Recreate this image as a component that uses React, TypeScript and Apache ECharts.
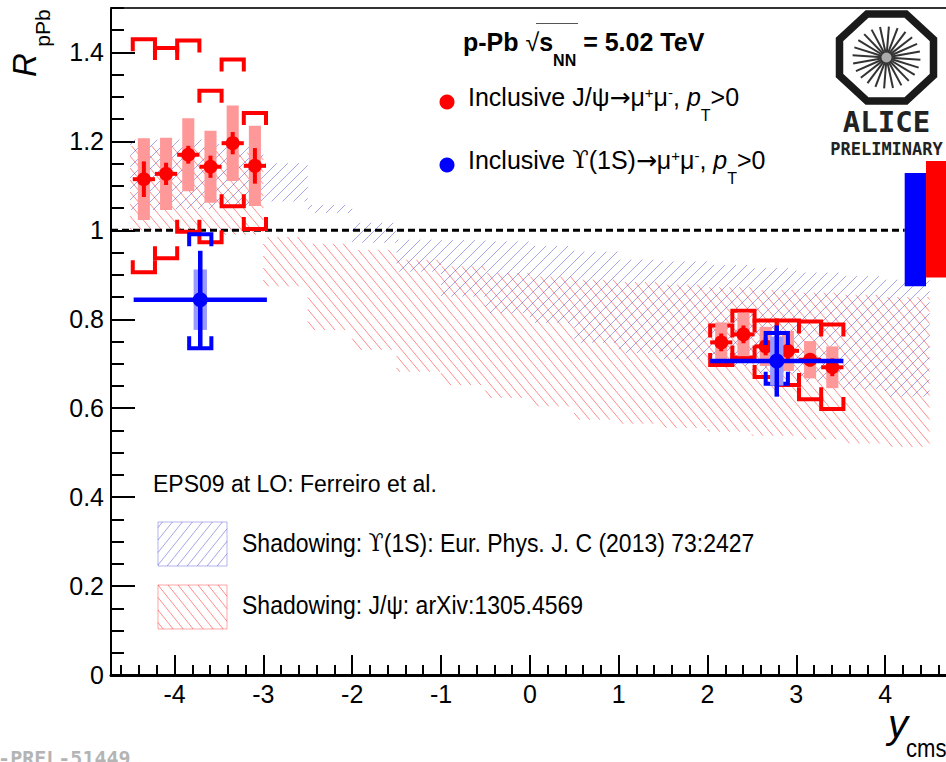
import React, { useEffect, useRef } from "react";
import * as echarts from "echarts";

const FONT = '"Liberation Sans", "DejaVu Sans", sans-serif';
const MONO = '"DejaVu Sans Mono", "Liberation Mono", monospace';
const SERIF = '"DejaVu Serif", "Liberation Serif", serif';

// ---------- data ----------
// J/psi -> mu+mu-  (p-Pb, pT>0)
const jpsiRapidity = [-4.345, -4.095, -3.845, -3.595, -3.345, -3.095, 2.155, 2.405, 2.655, 2.905, 3.155, 3.405];
const jpsiRpPb = [1.115, 1.127, 1.17, 1.143, 1.196, 1.145, 0.748, 0.766, 0.739, 0.729, 0.709, 0.692];
const jpsiStat = [0.04, 0.025, 0.02, 0.025, 0.025, 0.04, 0.02, 0.02, 0.02, 0.02, 0.015, 0.02];
const jpsiSystUncorr = [0.092, 0.081, 0.082, 0.081, 0.085, 0.09, 0.045, 0.049, 0.044, 0.045, 0.042, 0.047];
const jpsiSystCorrLow = [0.906, 0.937, 0.997, 0.973, 1.054, 1.003, 0.697, 0.714, 0.67, 0.652, 0.62, 0.598];
const jpsiSystCorrHigh = [1.43, 1.41, 1.427, 1.314, 1.384, 1.264, 0.786, 0.819, 0.797, 0.797, 0.795, 0.788];
const jpsiBinHalfWidth = 0.125;

// Upsilon(1S) -> mu+mu-
const upsRapidity = [-3.71, 2.78];
const upsBinLow = [-4.46, 2.03];
const upsBinHigh = [-2.96, 3.53];
const upsRpPb = [0.844, 0.706];
const upsStat = [0.11, 0.08];
const upsSystUncorr = [0.068, 0.055];
const upsSystCorrLow = [0.735, 0.655];
const upsSystCorrHigh = [0.991, 0.769];

// global (correlated) uncertainty boxes around unity
const globalUpsX = [4.22, 4.46];
const globalUpsR = [0.874, 1.129];
const globalJpsiX = [4.46, 4.7];
const globalJpsiR = [0.894, 1.156];

// EPS09 LO shadowing bands (bins of 0.5 in y_cms)
const bandEdges = [-4.5, -4, -3.5, -3, -2.5, -2, -1.5, -1, -0.5, 0, 0.5, 1, 1.5, 2, 2.5, 3, 3.5, 4, 4.5];
const upsBandLow = [1.046, 1.048, 1.055, 1.065, 1.039, 0.972, 0.907, 0.851, 0.814, 0.792, 0.747, 0.724, 0.71, 0.695, 0.678, 0.66, 0.643, 0.626];
const upsBandHigh = [1.204, 1.204, 1.19, 1.151, 1.057, 1.017, 0.979, 0.978, 0.975, 0.965, 0.952, 0.934, 0.93, 0.922, 0.915, 0.905, 0.897, 0.889];
const jpsiBandLow = [1.0, 1.0, 0.99, 0.874, 0.776, 0.731, 0.682, 0.652, 0.623, 0.604, 0.574, 0.565, 0.556, 0.547, 0.538, 0.53, 0.521, 0.513];
const jpsiBandHigh = [1.19, 1.185, 1.175, 0.985, 0.97, 0.956, 0.934, 0.919, 0.904, 0.896, 0.889, 0.884, 0.878, 0.872, 0.866, 0.86, 0.855, 0.85];

// axis ticks
const xMajorTicks = [-4, -3, -2, -1, 0, 1, 2, 3, 4];
const yMajorTicks = [0, 0.2, 0.4, 0.6, 0.8, 1, 1.2, 1.4];
const xMinorTicks: number[] = [];
for (let k = -23; k <= 23; k++) if (k % 5 !== 0) xMinorTicks.push(Math.round(k * 2) / 10);
const yMinorTicks: number[] = [];
for (let k = 1; k <= 30; k++) if (k % 4 !== 0) yMinorTicks.push(Math.round(k * 5) / 100);

// ---------- helpers ----------
function hatchLines(x0: number, y0: number, x1: number, y1: number, dir: "back" | "fwd", m: number, s: number, style: any) {
  const out: any[] = [];
  const step = m * s;
  if (dir === "back") {
    const uMin = y0 - m * x1, uMax = y1 - m * x0;
    for (let k = Math.ceil(uMin / step); k * step <= uMax; k++) {
      const u = k * step;
      const xa = Math.max(x0, (y0 - u) / m), xb = Math.min(x1, (y1 - u) / m);
      if (xb > xa) out.push({ type: "line", silent: true, shape: { x1: xa, y1: m * xa + u, x2: xb, y2: m * xb + u }, style });
    }
  } else {
    const uMin = y0 + m * x0, uMax = y1 + m * x1;
    for (let k = Math.ceil(uMin / step); k * step <= uMax; k++) {
      const u = k * step;
      const xa = Math.max(x0, (u - y1) / m), xb = Math.min(x1, (u - y0) / m);
      if (xb > xa) out.push({ type: "line", silent: true, shape: { x1: xa, y1: u - m * xa, x2: xb, y2: u - m * xb }, style });
    }
  }
  return out;
}

const RED_HATCH = { stroke: "rgba(255,0,0,0.45)", lineWidth: 1 };
const BLUE_HATCH = { stroke: "rgba(40,40,200,0.42)", lineWidth: 1 };

function bandRender(dir: "back" | "fwd", m: number, s: number, style: any) {
  return (params: any, api: any) => {
    const p0 = api.coord([api.value(0), api.value(3)]);
    const p1 = api.coord([api.value(1), api.value(2)]);
    return { type: "group", children: hatchLines(p0[0], p0[1], p1[0], p1[1], dir, m, s, style) };
  };
}

function pointRender(opt: any) {
  return (params: any, api: any) => {
    const x = api.value(0), y = api.value(1), stat = api.value(2), unc = api.value(3);
    const cLo = api.value(4), cHi = api.value(5), bLo = api.value(6), bHi = api.value(7);
    const c = api.coord([x, y]);
    const bl = api.coord([x - opt.boxHalf, y + unc]);
    const br = api.coord([x + opt.boxHalf, y - unc]);
    const kl = api.coord([x - opt.bracketHalf, cHi]);
    const kr = api.coord([x + opt.bracketHalf, cLo]);
    const sT = api.coord([x, y + stat]);
    const sB = api.coord([x, y - stat]);
    const hL = api.coord([bLo, y]);
    const hR = api.coord([bHi, y]);
    const L = opt.leg;
    const brStyle = { stroke: opt.color, lineWidth: opt.bracketWidth, fill: "none", lineJoin: "miter" };
    return {
      type: "group",
      children: [
        { type: "polyline", shape: { points: [[kl[0], kl[1] + L], [kl[0], kl[1]], [kr[0], kl[1]], [kr[0], kl[1] + L]] }, style: brStyle },
        { type: "polyline", shape: { points: [[kl[0], kr[1] - L], [kl[0], kr[1]], [kr[0], kr[1]], [kr[0], kr[1] - L]] }, style: brStyle },
        { type: "rect", shape: { x: bl[0], y: bl[1], width: br[0] - bl[0], height: br[1] - bl[1] }, style: { fill: opt.boxColor } },
        { type: "line", shape: { x1: sT[0], y1: sT[1], x2: sB[0], y2: sB[1] }, style: { stroke: opt.color, lineWidth: opt.statWidth } },
        { type: "line", shape: { x1: hL[0], y1: hL[1], x2: hR[0], y2: hR[1] }, style: { stroke: opt.color, lineWidth: opt.statWidth } },
        { type: "circle", shape: { cx: c[0], cy: c[1], r: opt.r }, style: { fill: opt.color } },
      ],
    };
  };
}

function boxRender(color: string) {
  return (params: any, api: any) => {
    const p0 = api.coord([api.value(0), api.value(3)]);
    const p1 = api.coord([api.value(1), api.value(2)]);
    return { type: "rect", shape: { x: p0[0], y: p0[1], width: p1[0] - p0[0], height: p1[1] - p0[1] }, style: { fill: color } };
  };
}

function buildOption() {
  const jpsiData = jpsiRapidity.map((x, i) => [x, jpsiRpPb[i], jpsiStat[i], jpsiSystUncorr[i], jpsiSystCorrLow[i], jpsiSystCorrHigh[i], x - jpsiBinHalfWidth, x + jpsiBinHalfWidth]);
  const upsData = upsRapidity.map((x, i) => [x, upsRpPb[i], upsStat[i], upsSystUncorr[i], upsSystCorrLow[i], upsSystCorrHigh[i], upsBinLow[i], upsBinHigh[i]]);
  const jpsiBand = jpsiBandLow.map((lo, i) => [bandEdges[i], bandEdges[i + 1], lo, jpsiBandHigh[i]]);
  const upsBand = upsBandLow.map((lo, i) => [bandEdges[i], bandEdges[i + 1], lo, upsBandHigh[i]]);

  const legendBoxes: any[] = [];
  const lb1 = { x: 158, y: 522, w: 69, h: 44 };
  const lb2 = { x: 158, y: 585, w: 69, h: 44 };
  legendBoxes.push(...hatchLines(lb1.x, lb1.y, lb1.x + lb1.w, lb1.y + lb1.h, "fwd", 1.25, 10, BLUE_HATCH));
  legendBoxes.push({ type: "rect", shape: { x: lb1.x, y: lb1.y, width: lb1.w, height: lb1.h }, style: { fill: "none", stroke: "rgba(40,40,200,0.35)", lineWidth: 1 } });
  legendBoxes.push(...hatchLines(lb2.x, lb2.y, lb2.x + lb2.w, lb2.y + lb2.h, "back", 1.25, 10, RED_HATCH));
  legendBoxes.push({ type: "rect", shape: { x: lb2.x, y: lb2.y, width: lb2.w, height: lb2.h }, style: { fill: "none", stroke: "rgba(255,0,0,0.35)", lineWidth: 1 } });

  // ALICE logo
  const logo: any[] = [];
  const cx = 886.5, cy = 57.5, rx = 47, ry = 43.5;
  const oct: number[][] = [];
  for (let k = 0; k < 8; k++) {
    const a = Math.PI / 8 + (k * Math.PI) / 4;
    oct.push([cx + (rx / Math.cos(Math.PI / 8)) * Math.cos(a), cy + (ry / Math.cos(Math.PI / 8)) * Math.sin(a)]);
  }
  logo.push({ type: "polygon", shape: { points: oct }, style: { fill: "none", stroke: "#1a1a1a", lineWidth: 7.5, lineJoin: "miter" } });
  for (let k = 0; k < 24; k++) {
    const a = (k * Math.PI * 2) / 24 + 0.07;
    logo.push({ type: "line", shape: { x1: cx + 4 * Math.cos(a), y1: cy + 4 * Math.sin(a), x2: cx + 34 * Math.cos(a), y2: cy + 31 * Math.sin(a) }, style: { stroke: "#333", lineWidth: 2 } });
  }
  logo.push({ type: "circle", shape: { cx, cy, r: 5 }, style: { fill: "#aaa" } });
  logo.push({ type: "text", style: { text: "ALICE", x: cx, y: 122, align: "center", verticalAlign: "middle", font: `bold 29px ${MONO}`, fill: "#222" } });
  logo.push({ type: "text", style: { text: "PRELIMINARY", x: cx, y: 149, align: "center", verticalAlign: "middle", font: `bold 17px ${MONO}`, fill: "#222" } });

  const main = { fontFamily: FONT, fontSize: 25, lineHeight: 52, fill: "#000" };
  const greek = { fontFamily: SERIF, fontSize: 24, lineHeight: 52, fill: "#000" };
  const arrow = { fontFamily: '"DejaVu Sans", sans-serif', fontSize: 25, lineHeight: 52, fill: "#000" };
  const sup = { fontFamily: FONT, fontSize: 15, lineHeight: 15, verticalAlign: "middle", padding: [0, 0, 10, 0], fill: "#000" };
  const sub = { fontFamily: FONT, fontSize: 16, lineHeight: 16, verticalAlign: "bottom", fill: "#000" };
  const ital = { fontFamily: FONT, fontSize: 25, lineHeight: 52, fontStyle: "italic", fill: "#000" };
  const richSet = { a: main, g: greek, ar: arrow, s: sup, i: ital, t: sub };

  const shadowRich = {
    a: { fontFamily: FONT, fontSize: 25, fill: "#000" },
    g: { fontFamily: SERIF, fontSize: 24, fill: "#000" },
  };

  const texts: any[] = [
    // title
    {
      type: "text",
      style: {
        x: 463, y: 42, verticalAlign: "middle", align: "left",
        text: "{b|p-Pb }{r|√}{b|s}{bs|NN}{b| = 5.02 TeV}",
        rich: {
          b: { fontFamily: FONT, fontSize: 25, fontWeight: "bold", lineHeight: 52, fill: "#000" },
          r: { fontFamily: FONT, fontSize: 25, lineHeight: 52, fill: "#000" },
          bs: { fontFamily: FONT, fontSize: 16, fontWeight: "bold", lineHeight: 30, verticalAlign: "bottom", fill: "#000" },
        },
      },
    },
    { type: "line", shape: { x1: 536, y1: 23.5, x2: 578, y2: 23.5 }, style: { stroke: "#555", lineWidth: 1 } },
    // legend markers
    { type: "circle", shape: { cx: 447, cy: 102, r: 7.5 }, style: { fill: "#ff0000" } },
    { type: "circle", shape: { cx: 447, cy: 165, r: 7.5 }, style: { fill: "#0000ff" } },
    {
      type: "text",
      style: {
        x: 468, y: 97, verticalAlign: "middle",
        text: "{a|Inclusive J/ψ}{ar|→}{a|μ}{s|+}{a|μ}{s|-}{a|, }{i|p}{t|T}{a|>0}",
        rich: richSet,
      },
    },
    {
      type: "text",
      style: {
        x: 468, y: 160, verticalAlign: "middle",
        text: "{a|Inclusive }{g|ϒ}{a|(1S)}{ar|→}{a|μ}{s|+}{a|μ}{s|-}{a|, }{i|p}{t|T}{a|>0}",
        rich: richSet,
      },
    },
    { type: "text", style: { x: 153, y: 484, verticalAlign: "middle", text: "EPS09 at LO: Ferreiro et al.", font: `23px ${FONT}`, fill: "#000" } },
    { type: "text", x: 242, y: 543, scaleX: 0.92, style: { x: 0, y: 0, verticalAlign: "middle", text: "{a|Shadowing: }{g|ϒ}{a|(1S): Eur. Phys. J. C (2013) 73:2427}", rich: shadowRich } },
    { type: "text", x: 242, y: 605, scaleX: 0.92, style: { x: 0, y: 0, verticalAlign: "middle", text: "{a|Shadowing: J/ψ: arXiv:1305.4569}", rich: shadowRich } },
    // axis titles
    { type: "text", x: 24, y: 65, rotation: Math.PI / 2, style: { x: 0, y: 0, align: "center", verticalAlign: "middle", text: "R", font: `italic 33px ${FONT}`, fill: "#000" } },
    { type: "text", x: 42, y: 28, rotation: Math.PI / 2, style: { x: 0, y: 0, align: "center", verticalAlign: "middle", text: "pPb", font: `21px ${FONT}`, fill: "#000" } },
    { type: "text", style: { x: 888, y: 724, align: "left", verticalAlign: "middle", text: "y", font: `italic 40px ${FONT}`, fill: "#000" } },
    { type: "text", x: 906, y: 748, scaleX: 0.85, style: { x: 0, y: 0, align: "left", verticalAlign: "middle", text: "cms", font: `26px ${FONT}`, fill: "#000" } },
    // figure id (partly below the page edge, as in the original)
    { type: "text", style: { x: -38, y: 748, align: "left", verticalAlign: "top", text: "ALI-PREL-51449", font: `bold 20px ${MONO}`, fill: "#b4b4b4" } },
  ];

  return {
    animation: false,
    backgroundColor: "#fff",
    grid: { left: 111, top: 8, width: 835, height: 667, containLabel: false },
    xAxis: [
      {
        type: "value", min: -4.715, max: 4.685, position: "bottom",
        axisLine: { show: true, onZero: false, lineStyle: { color: "#000", width: 3 } },
        axisTick: { show: true, inside: true, length: 20, customValues: xMajorTicks, lineStyle: { color: "#000", width: 2 } },
        axisLabel: { show: true, customValues: xMajorTicks, color: "#000", fontFamily: FONT, fontSize: 25, margin: 6 },
        splitLine: { show: false },
      },
      {
        type: "value", min: -4.715, max: 4.685, position: "bottom",
        axisLine: { show: false, onZero: false },
        axisTick: { show: true, inside: true, length: 10, customValues: xMinorTicks, lineStyle: { color: "#000", width: 2 } },
        axisLabel: { show: false, customValues: xMinorTicks },
        splitLine: { show: false },
      },
      {
        type: "value", min: -4.715, max: 4.685, position: "top",
        axisLine: { show: true, onZero: false, lineStyle: { color: "#333", width: 2 } },
        axisTick: { show: false }, axisLabel: { show: false }, splitLine: { show: false },
      },
    ],
    yAxis: [
      {
        type: "value", min: 0, max: 1.5, position: "left",
        axisLine: { show: true, onZero: false, lineStyle: { color: "#000", width: 2 } },
        axisTick: { show: true, inside: true, length: 24, customValues: yMajorTicks, lineStyle: { color: "#000", width: 2 } },
        axisLabel: { show: true, customValues: yMajorTicks, color: "#000", fontFamily: FONT, fontSize: 25, margin: 7 },
        splitLine: { show: false },
      },
      {
        type: "value", min: 0, max: 1.5, position: "left",
        axisLine: { show: false, onZero: false },
        axisTick: { show: true, inside: true, length: 13, customValues: yMinorTicks, lineStyle: { color: "#000", width: 2 } },
        axisLabel: { show: false, customValues: yMinorTicks },
        splitLine: { show: false },
      },
    ],
    graphic: [...legendBoxes, ...logo, ...texts],
    series: [
      { type: "custom", name: "J/psi shadowing", xAxisIndex: 0, yAxisIndex: 0, data: jpsiBand, renderItem: bandRender("back", 1.2, 10, RED_HATCH), clip: true, silent: true, z: 1 },
      { type: "custom", name: "Upsilon shadowing", xAxisIndex: 0, yAxisIndex: 0, data: upsBand, renderItem: bandRender("fwd", 1.0, 11, BLUE_HATCH), clip: true, silent: true, z: 1 },
      {
        type: "line", name: "unity", xAxisIndex: 0, yAxisIndex: 0, data: [[-4.715, 1], [globalUpsX[0], 1]], symbol: "none", silent: true, z: 2,
        lineStyle: { color: "#000", width: 3, type: [7, 4] },
      },
      { type: "custom", name: "global Upsilon", xAxisIndex: 0, yAxisIndex: 0, data: [[globalUpsX[0], globalUpsX[1], globalUpsR[0], globalUpsR[1]]], renderItem: boxRender("#0000ff"), clip: true, silent: true, z: 3 },
      { type: "custom", name: "global J/psi", xAxisIndex: 0, yAxisIndex: 0, data: [[globalJpsiX[0], globalJpsiX[1], globalJpsiR[0], globalJpsiR[1]]], renderItem: boxRender("#ff0000"), clip: true, silent: true, z: 3 },
      {
        type: "custom", name: "J/psi", xAxisIndex: 0, yAxisIndex: 0, data: jpsiData, clip: true, silent: true, z: 4,
        renderItem: pointRender({ color: "#ff0000", boxColor: "#ff9999", boxHalf: 0.068, bracketHalf: 0.125, leg: 12, bracketWidth: 4, statWidth: 4, r: 7 }),
      },
      {
        type: "custom", name: "Upsilon", xAxisIndex: 0, yAxisIndex: 0, data: upsData, clip: true, silent: true, z: 5,
        renderItem: pointRender({ color: "#0000ff", boxColor: "#9999ff", boxHalf: 0.075, bracketHalf: 0.125, leg: 12, bracketWidth: 4, statWidth: 4.5, r: 7.5 }),
      },
    ],
  };
}

export default function App() {
  const ref = useRef<HTMLDivElement>(null);
  useEffect(() => {
    if (!ref.current) return;
    const chart = echarts.init(ref.current, undefined, { renderer: "svg" });
    chart.setOption(buildOption() as any);
    return () => chart.dispose();
  }, []);
  return <div ref={ref} style={{ position: "fixed", left: 0, top: 0, width: 946, height: 762, background: "#fff" }} />;
}
